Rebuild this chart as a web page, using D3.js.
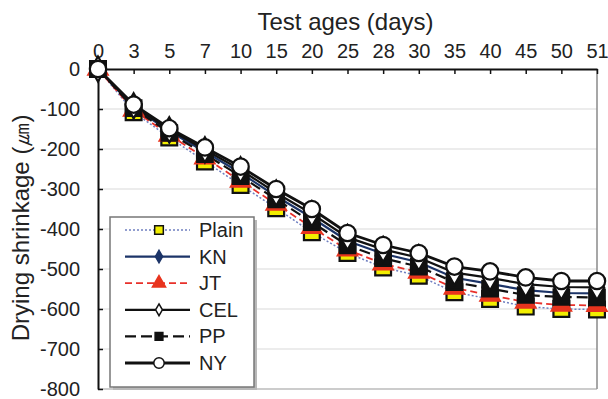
<html>
<head>
<meta charset="utf-8">
<script src="https://d3js.org/d3.v7.min.js"></script>
<style>
	body { margin: 0; background-color: white; }
	text { font-family: "Liberation Sans", Arial, sans-serif; fill: #222; }
</style>
</head>
<body>
<script>
// test ages (days) and drying shrinkage values
var ages = [0, 3, 5, 7, 10, 15, 20, 25, 28, 30, 35, 40, 45, 50, 51];
var plain = [0, -108, -171, -231, -290, -348, -408, -460, -496, -517, -558, -575, -594, -600, -601];
var kn    = [0, -95, -156, -207, -260, -318, -372, -430, -462, -483, -522, -537, -553, -560, -561];
var jt    = [0, -103, -165, -222, -280, -338, -396, -452, -487, -508, -548, -565, -583, -590, -591];
var cel   = [0, -92, -152, -202, -252, -310, -362, -421, -451, -472, -509, -522, -538, -545, -546];
var pp    = [0, -98, -160, -213, -268, -326, -383, -441, -473, -494, -533, -549, -565, -570, -571];
var ny    = [0, -89, -148, -196, -244, -300, -350, -410, -440, -460, -494, -506, -521, -530, -530];
var yTicks = [0, -100, -200, -300, -400, -500, -600, -700, -800];
var names = ["Plain", "KN", "JT", "CEL", "PP", "NY"];

var margin = { top: 69, right: 11, bottom: 10, left: 98 };
var width = 608 - margin.left - margin.right,
    height = 399 - margin.top - margin.bottom;

var svg = d3.select("body").append("svg")
	.attr("width", 608)
	.attr("height", 399);

var g = svg.append("g")
	.attr("transform", "translate(" + margin.left + "," + margin.top + ")");

var xScale = d3.scalePoint().domain(ages).range([0, width]);
var yScale = d3.scaleLinear().domain([-800, 0]).range([height, 0]);

// *** grid
g.append("g").selectAll("line")
	.data(yTicks.filter(function(d){ return d != 0 && d != -800; }))
	.enter().append("line")
	.attr("x1", 0).attr("x2", width)
	.attr("y1", function(d){ return yScale(d); })
	.attr("y2", function(d){ return yScale(d); })
	.attr("stroke", "#dadada")
	.attr("stroke-width", 1.2);

// right and bottom border
g.append("line").attr("x1", width).attr("x2", width).attr("y1", 0).attr("y2", height)
	.attr("stroke", "#8a8a8a").attr("stroke-width", 1.5);
g.append("line").attr("x1", 0).attr("x2", width).attr("y1", height).attr("y2", height)
	.attr("stroke", "#9a9a9a").attr("stroke-width", 1.2);

// *** axes
var xAxis = d3.axisTop(xScale).tickSizeInner(-5).tickSizeOuter(0).tickPadding(11);
var yAxis = d3.axisLeft(yScale).tickValues(yTicks).tickSizeInner(-5).tickSizeOuter(0).tickPadding(18)
	.tickFormat(function(d){ return String(d); });

var xg = g.append("g").call(xAxis);
var yg = g.append("g").call(yAxis);
[xg, yg].forEach(function(a){
	a.select(".domain").attr("stroke", "#111").attr("stroke-width", 2);
	a.selectAll(".tick line").attr("stroke", "#111").attr("stroke-width", 1.5);
	a.selectAll("text").attr("font-size", "20px").attr("fill", "#222")
		.style("font-family", "'Liberation Sans', Arial, sans-serif");
});

svg.append("text")
	.attr("x", margin.left + width / 2 - 2)
	.attr("y", 30)
	.attr("text-anchor", "middle")
	.attr("font-size", "24px")
	.text("Test ages (days)");

svg.append("text")
	.attr("transform", "translate(29,228) rotate(-90)")
	.attr("text-anchor", "middle")
	.attr("font-size", "24px")
	.text("Drying shrinkage (\u339B)");

// *** series
var series = [
	{ name: "Plain", values: plain, color: "#6f7fc0", dash: "2,2", width: 1.5, sym: d3.symbolSquare, size: 250, lsize: 75, fill: "#f2ee00", stroke: "#111" },
	{ name: "KN", values: kn, color: "#1c3468", dash: null, width: 2.2, sym: d3.symbolDiamond, size: 140, lsize: 45, fill: "#1c3468", stroke: "#1c3468" },
	{ name: "JT", values: jt, color: "#e8302a", dash: "7,4", width: 1.8, sym: d3.symbolTriangle, size: 160, lsize: 75, fill: "#e8341e", stroke: "#e8341e" },
	{ name: "PP", values: pp, color: "#111", dash: "11,5", width: 2.2, sym: d3.symbolSquare, size: 240, lsize: 60, fill: "#111", stroke: "#111" },
	{ name: "CEL", values: cel, color: "#111", dash: null, width: 2.2, sym: d3.symbolDiamond, size: 180, lsize: 40, fill: "white", stroke: "#111" },
	{ name: "NY", values: ny, color: "#111", dash: null, width: 2.8, sym: d3.symbolCircle, size: 210, lsize: 85, fill: "white", stroke: "#111" }
];

var line = d3.line()
	.x(function(d, i){ return xScale(ages[i]); })
	.y(function(d){ return yScale(d); });

series.forEach(function(s){
	g.append("path")
		.attr("d", line(s.values))
		.attr("fill", "none")
		.attr("stroke", s.color)
		.attr("stroke-width", s.width)
		.attr("stroke-dasharray", s.dash);
});

series.forEach(function(s){
	g.append("g").selectAll("path")
		.data(s.values)
		.enter().append("path")
		.attr("transform", function(d, i){ return "translate(" + xScale(ages[i]) + "," + yScale(d) + ")"; })
		.attr("d", d3.symbol().type(s.sym).size(s.size))
		.attr("fill", s.fill)
		.attr("stroke", s.stroke)
		.attr("stroke-width", 2.2);
});

// *** legend
var legend = svg.append("g").attr("transform", "translate(110,217)");
legend.append("rect").attr("x", 3).attr("y", 3).attr("width", 144).attr("height", 170)
	.attr("fill", "#b8b8b8");
legend.append("rect").attr("width", 144).attr("height", 170)
	.attr("fill", "white").attr("stroke", "#777").attr("stroke-width", 1.5);

var byName = {};
series.forEach(function(s){ byName[s.name] = s; });

names.forEach(function(n, i){
	var s = byName[n];
	var yy = 13 + i * 26.6;
	legend.append("line")
		.attr("x1", 15).attr("x2", 80).attr("y1", yy).attr("y2", yy)
		.attr("stroke", s.color)
		.attr("stroke-width", s.width)
		.attr("stroke-dasharray", s.dash);
	legend.append("path")
		.attr("transform", "translate(49," + yy + ")")
		.attr("d", d3.symbol().type(s.sym).size(s.lsize))
		.attr("fill", s.fill)
		.attr("stroke", s.stroke)
		.attr("stroke-width", 1.5);
	legend.append("text")
		.attr("x", 89).attr("y", yy).attr("dy", "0.35em")
		.attr("font-size", "20px")
		.text(n);
});
</script>
</body>
</html>
